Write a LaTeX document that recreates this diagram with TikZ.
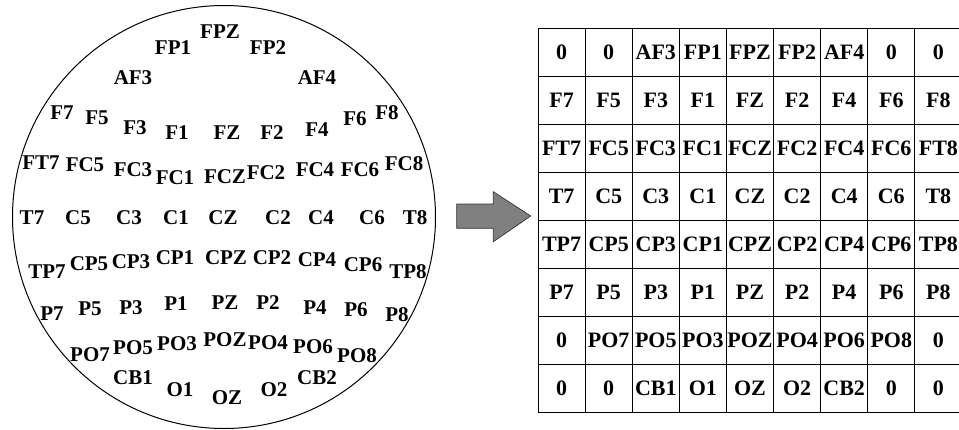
\documentclass[tikz,border=0pt]{standalone}
\usepackage{fontspec}
\setmainfont{Liberation Serif}
\begin{document}
\begin{tikzpicture}[x=1pt,y=-1pt,
  lab/.style={font=\fontsize{21}{23}\selectfont\bfseries, inner sep=0pt},
  cell/.style={draw, line width=1.1pt, minimum width=47.1pt, minimum height=48pt,
    inner sep=0pt, anchor=north west, font=\fontsize{22}{24}\selectfont\bfseries},
  arrowfill/.style={draw=black!80, fill=black!50, line width=0.7pt, line join=miter}]
\useasboundingbox (0,0) rectangle (959,429);
% head outline
\node[circle, draw, line width=1pt, minimum size=423pt, inner sep=0pt] (head) at (224,217) {};
% electrode labels
\foreach \t/\x/\y in {
  FP1/173/48, FPZ/220/32, FP2/268/48, AF3/133/78, AF4/317/78,
  F7/62/113, F5/97/118, F3/135/128, F1/177/133, FZ/227/133, F2/272/133, F4/317/130, F6/355/119, F8/387/113,
  FT7/41/163, FC5/85/165, FC3/133/170, FC1/175/178, FCZ/225/177, FC2/266/173, FC4/315/170, FC6/360/170, FC8/404/164,
  T7/32/218, C5/78/218, C3/129/218, C1/176/218, CZ/223/218, C2/278/218, C4/321/218, C6/372/218, T8/415/218,
  TP7/47/272, CP5/89/264, CP3/131/262, CP1/175/258, CPZ/226/258, CP2/272/258, CP4/317/260, CP6/363/265, TP8/408/272,
  P7/52/314, P5/90/309, P3/131/308, P1/176/304, PZ/225/303, P2/268/303, P4/315/308, P6/356/310, P8/397/315,
  PO7/90/355, PO5/133/348, PO3/177/344, POZ/225/340, PO4/268/343, PO6/313/347, PO8/357/356,
  CB1/133/378, O1/180/390, OZ/227/398, O2/274/390, CB2/317/378}
  \node[lab] (e-\t) at (\x,\y) {\t};
% arrow
\draw[arrowfill] (456.7,204) -- (493.3,204) -- (493.3,191.7) -- (530.7,216)
  -- (493.3,241.7) -- (493.3,228.3) -- (456.7,228.3) -- cycle;
% grid
\foreach \row [count=\r from 0] in {
  {0,0,AF3,FP1,FPZ,FP2,AF4,0,0},
  {F7,F5,F3,F1,FZ,F2,F4,F6,F8},
  {FT7,FC5,FC3,FC1,FCZ,FC2,FC4,FC6,FT8},
  {T7,C5,C3,C1,CZ,C2,C4,C6,T8},
  {TP7,CP5,CP3,CP1,CPZ,CP2,CP4,CP6,TP8},
  {P7,P5,P3,P1,PZ,P2,P4,P6,P8},
  {0,PO7,PO5,PO3,POZ,PO4,PO6,PO8,0},
  {0,0,CB1,O1,OZ,O2,CB2,0,0}}
  \foreach \t [count=\c from 0] in \row
    \node[cell] (g-\r-\c) at ({537.5+47.1*\c},{28+48*\r}) {\t};
\end{tikzpicture}
\end{document}
